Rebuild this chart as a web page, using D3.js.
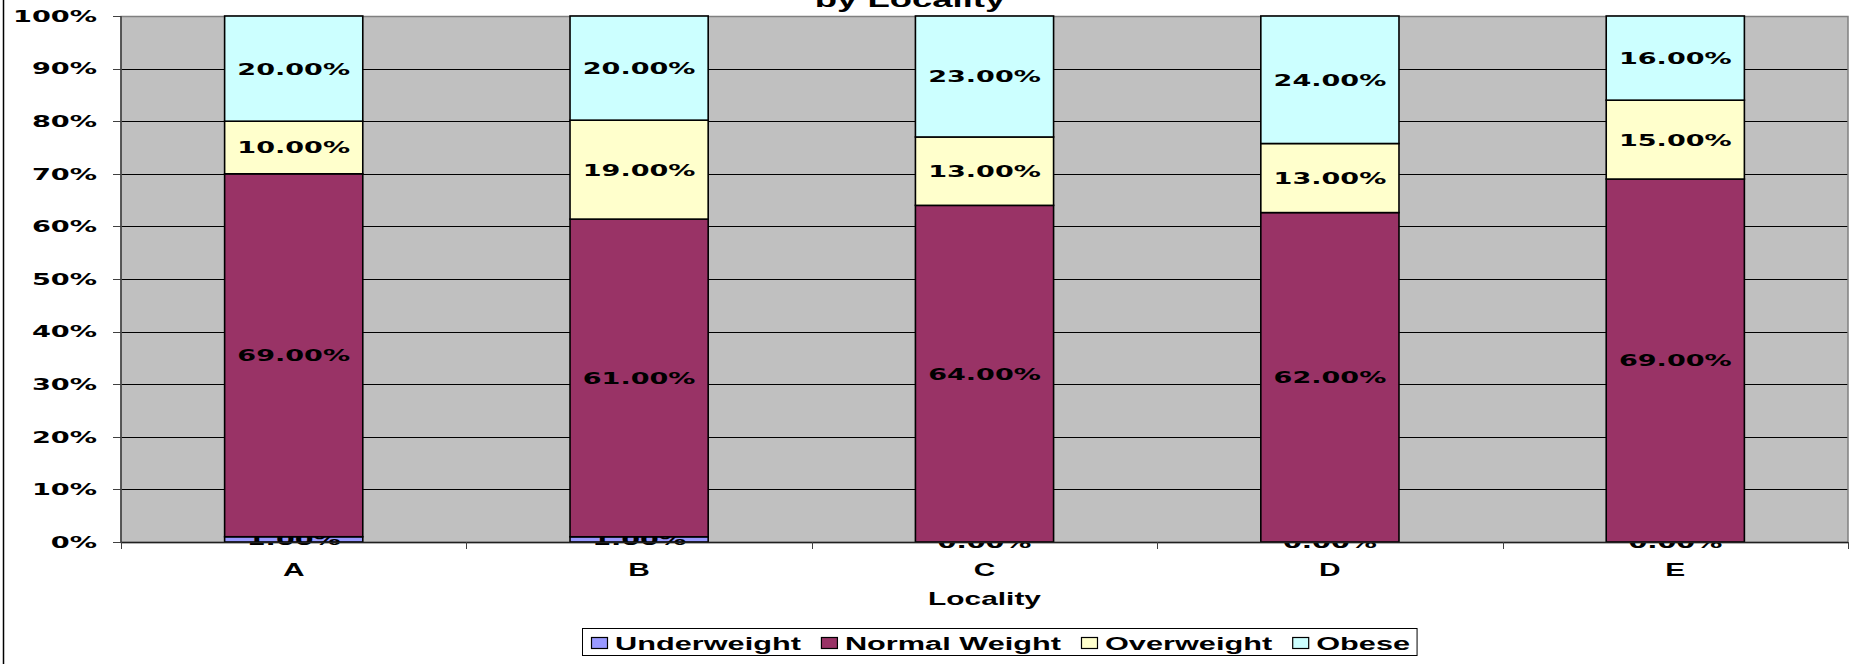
<!DOCTYPE html>
<html>
<head>
<meta charset="utf-8">
<script src="https://cdn.jsdelivr.net/npm/d3@7"></script>
<style>
  html, body { margin: 0; padding: 0; background: #fff; }
  svg { display: block; }
</style>
</head>
<body>
<svg id="chart" width="1858" height="664"></svg>
<script>
// ---- data ----
const categories = ["A", "B", "C", "D", "E"];
const seriesNames = ["Underweight", "Normal Weight", "Overweight", "Obese"];
const underweight = [1, 1, 0, 0, 0];
const normalWeight = [69, 61, 64, 62, 69];
const overweight = [10, 19, 13, 13, 15];
const obese = [20, 20, 23, 24, 16];
const yTicks = [0, 0.1, 0.2, 0.3, 0.4, 0.5, 0.6, 0.7, 0.8, 0.9, 1.0];
const seriesColors = ["#9999FF", "#993366", "#FFFFCC", "#CCFFFF"];
const titleText = "by Locality";
const xTitle = "Locality";

// ---- layout ----
const W = 1858, H = 664;
const plot = { left: 121, right: 1848, top: 16, bottom: 542 };
const SX_ARIAL = 1.66;   // horizontal stretch of the picture
const SX_TICK = 1.7;
const SX_LABEL = 1.64;

const svg = d3.select("#chart");

const rows = categories.map((c, i) => ({
  cat: c,
  "Underweight": underweight[i],
  "Normal Weight": normalWeight[i],
  "Overweight": overweight[i],
  "Obese": obese[i]
}));

const stack = d3.stack().keys(seriesNames).offset(d3.stackOffsetExpand);
const stacked = stack(rows);

const x = d3.scaleBand().domain(categories)
  .range([plot.left, plot.right]).paddingInner(0.6).paddingOuter(0.3);
const y = d3.scaleLinear().domain([0, 1]).range([plot.bottom, plot.top]);

// left chart-area border
svg.append("line").attr("x1", 3.5).attr("x2", 3.5).attr("y1", 0).attr("y2", H)
  .attr("stroke", "#000").attr("stroke-width", 1.5);

// title (second line, partly above the top edge as in the reference)
svg.append("text")
  .attr("transform", `translate(910,7) scale(${SX_ARIAL},1)`)
  .attr("text-anchor", "middle")
  .style("font-family", "'Liberation Sans', Arial, sans-serif")
  .style("font-weight", "bold").style("font-size", "22px")
  .text(titleText);

// plot background
svg.append("rect").attr("x", plot.left).attr("y", plot.top)
  .attr("width", plot.right - plot.left).attr("height", plot.bottom - plot.top)
  .attr("fill", "#C0C0C0");

// gridlines
svg.append("g").selectAll("line").data(yTicks.filter(t => t > 0 && t < 1)).join("line")
  .attr("x1", plot.left).attr("x2", plot.right)
  .attr("y1", d => Math.round(y(d)) + 0.5).attr("y2", d => Math.round(y(d)) + 0.5)
  .attr("stroke", "#000").attr("stroke-width", 1);

// plot border (gray)
svg.append("rect").attr("x", plot.left).attr("y", plot.top + 0.5)
  .attr("width", plot.right - plot.left).attr("height", plot.bottom - plot.top)
  .attr("fill", "none").attr("stroke", "#808080").attr("stroke-width", 1.5);

// bars and labels, series by series
stacked.forEach((layer, si) => {
  const g = svg.append("g");
  g.selectAll("rect").data(layer).join("rect")
    .attr("x", d => x(d.data.cat))
    .attr("y", d => y(d[1]))
    .attr("width", x.bandwidth())
    .attr("height", d => Math.max(0, y(d[0]) - y(d[1])))
    .attr("fill", seriesColors[si])
    .attr("stroke", "#000").attr("stroke-width", 1.6);
  g.selectAll("text").data(layer).join("text")
    .attr("transform", d => `translate(${x(d.data.cat) + x.bandwidth() / 2},${(y(d[0]) + y(d[1])) / 2}) scale(${SX_LABEL},1)`)
    .attr("text-anchor", "middle")
    .attr("dy", "0.36em")
    .style("font-family", "'DejaVu Sans', Verdana, sans-serif")
    .style("font-weight", "bold")
    .style("font-size", "16.5px")
    .attr("fill", "#000")
    .text(d => d3.format(".2f")(d.data[layer.key]) + "%");
});

// y axis
const yAxisG = svg.append("g");
yAxisG.append("line").attr("x1", plot.left).attr("x2", plot.left)
  .attr("y1", plot.top).attr("y2", plot.bottom).attr("stroke", "#404040").attr("stroke-width", 1.5);
yAxisG.selectAll("line.tick").data(yTicks).join("line").attr("class", "tick")
  .attr("x1", plot.left - 8).attr("x2", plot.left)
  .attr("y1", d => Math.round(y(d)) + 0.5).attr("y2", d => Math.round(y(d)) + 0.5)
  .attr("stroke", "#404040").attr("stroke-width", 1);
yAxisG.selectAll("text").data(yTicks).join("text")
  .attr("transform", d => `translate(97,${y(d)}) scale(${SX_TICK},1)`)
  .attr("text-anchor", "end").attr("dy", "0.36em")
  .style("font-family", "'DejaVu Sans', Verdana, sans-serif")
  .style("font-weight", "bold").style("font-size", "16px")
  .text(d => d3.format(".0%")(d));

// x axis
const xAxisG = svg.append("g");
xAxisG.append("line").attr("x1", plot.left).attr("x2", plot.right)
  .attr("y1", plot.bottom + 0.5).attr("y2", plot.bottom + 0.5)
  .attr("stroke", "#202020").attr("stroke-width", 1.5);
const boundaries = categories.map((c, i) => plot.left + i * x.step());
boundaries.push(plot.right);
xAxisG.selectAll("line.tick").data(boundaries).join("line").attr("class", "tick")
  .attr("x1", d => Math.round(d) + 0.5).attr("x2", d => Math.round(d) + 0.5)
  .attr("y1", plot.bottom).attr("y2", plot.bottom + 7)
  .attr("stroke", "#404040").attr("stroke-width", 1);
xAxisG.selectAll("text").data(categories).join("text")
  .attr("transform", d => `translate(${x(d) + x.bandwidth() / 2},575.5) scale(${SX_ARIAL},1)`)
  .attr("text-anchor", "middle")
  .style("font-family", "'Liberation Sans', Arial, sans-serif")
  .style("font-weight", "bold").style("font-size", "18px")
  .text(d => d);

// x axis title
svg.append("text")
  .attr("transform", `translate(${(plot.left + plot.right) / 2},605) scale(${SX_ARIAL},1)`)
  .attr("text-anchor", "middle")
  .style("font-family", "'Liberation Sans', Arial, sans-serif")
  .style("font-weight", "bold").style("font-size", "18px")
  .text(xTitle);

// legend
const legend = svg.append("g");
const box = legend.append("rect").attr("x", 582.5).attr("y", 628.5).attr("height", 27)
  .attr("fill", "#fff").attr("stroke", "#000").attr("stroke-width", 1);
let lx = 591;
seriesNames.forEach((name, i) => {
  legend.append("rect").attr("x", lx + 0.5).attr("y", 637.5).attr("width", 16).attr("height", 11)
    .attr("fill", seriesColors[i]).attr("stroke", "#000").attr("stroke-width", 1.2);
  const tx = lx + 24;
  const t = legend.append("text")
    .attr("transform", `translate(${tx},650) scale(${SX_ARIAL},1)`)
    .style("font-family", "'Liberation Sans', Arial, sans-serif")
    .style("font-weight", "bold").style("font-size", "18.5px")
    .text(name);
  const w = t.node().getComputedTextLength() * SX_ARIAL;
  lx = tx + w + 20;
});
box.attr("width", (lx - 20 + 7) - 582.5);
</script>
</body>
</html>
